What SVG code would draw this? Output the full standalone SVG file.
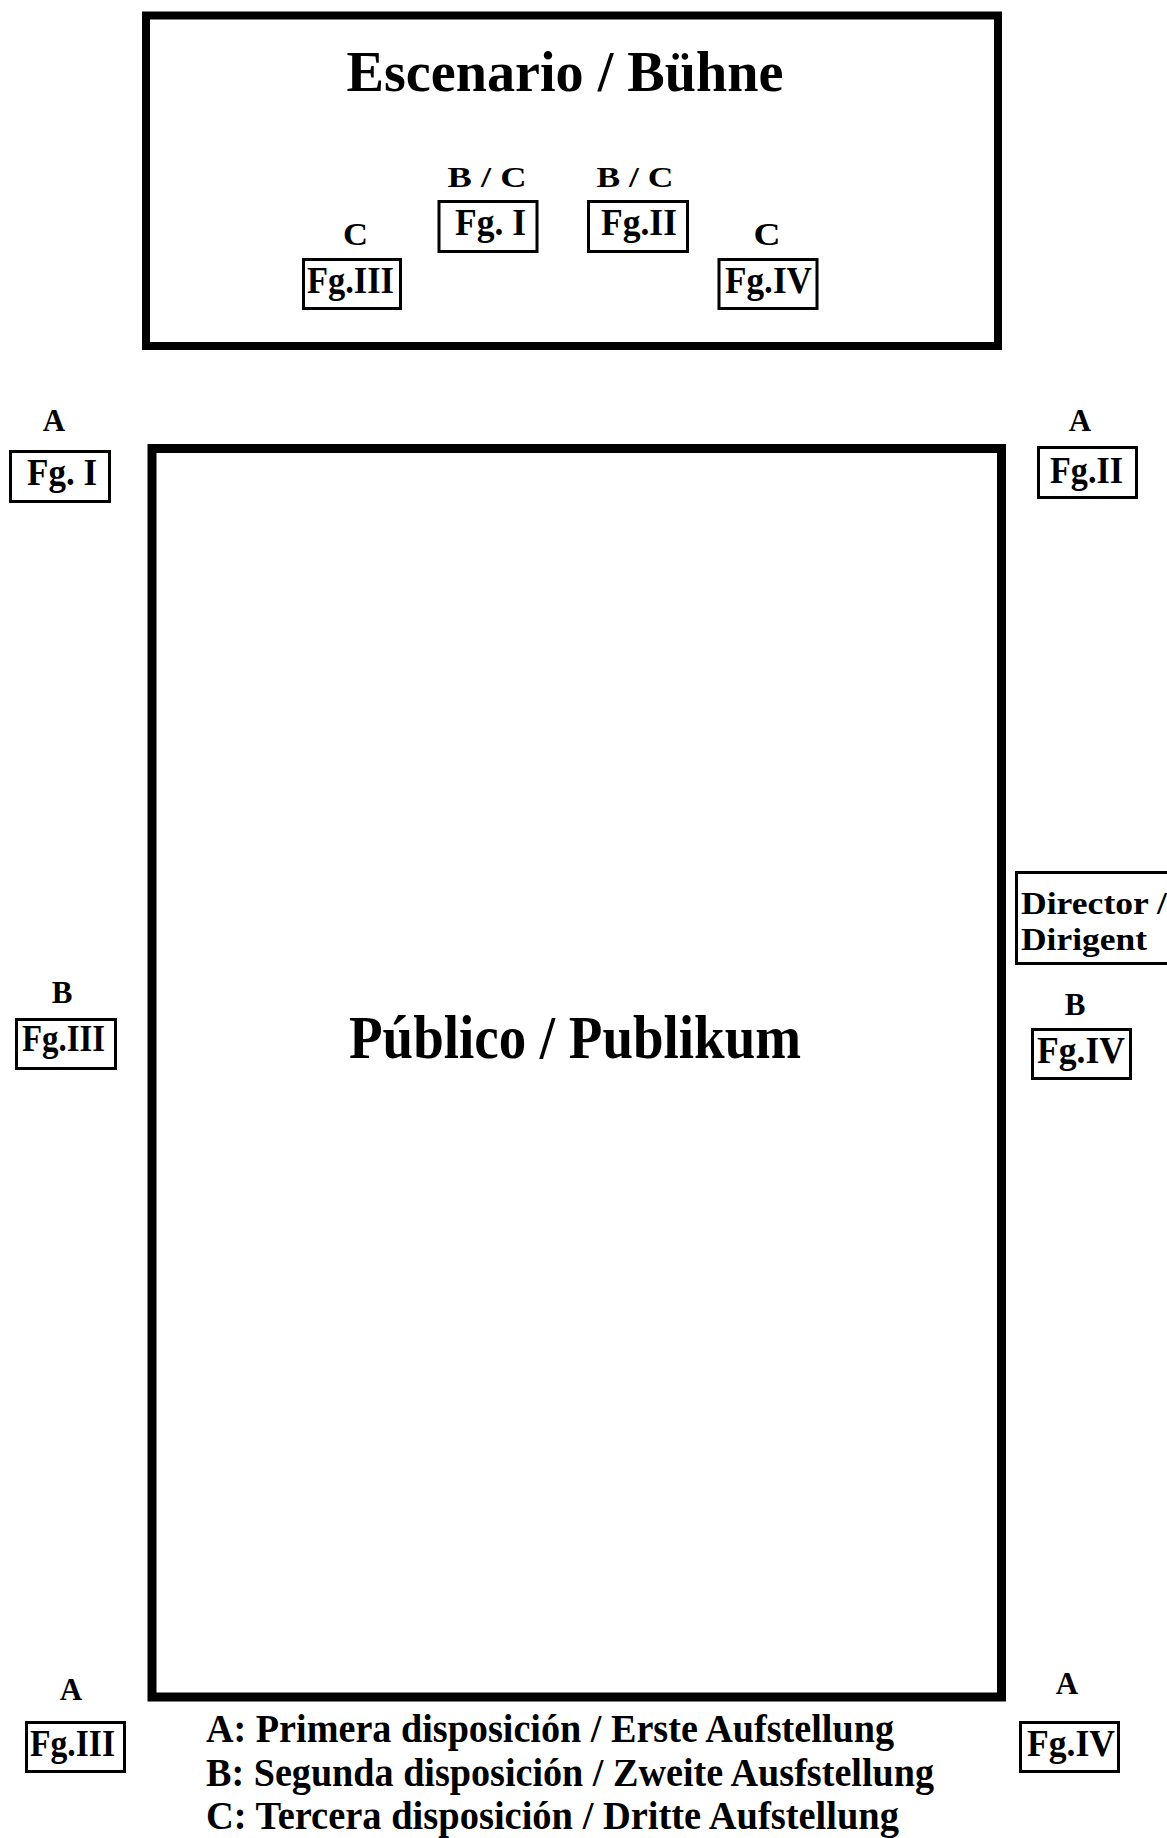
<svg xmlns="http://www.w3.org/2000/svg" width="1167" height="1838" viewBox="0 0 1167 1838">
<style>
.t{font-family:"Liberation Serif","Times New Roman",serif;font-weight:bold;fill:#000}
.m{text-anchor:middle}
.box{fill:none;stroke:#000;stroke-width:3}
.big{fill:none;stroke:#000}
.lab{font-size:31px}
</style>
<rect width="1167" height="1838" fill="#fff"/>
<g id="stage">
<rect class="big" x="146" y="15.5" width="852" height="330.5" stroke-width="8"/>
<text class="t m" x="565" y="91" font-size="58" textLength="437" lengthAdjust="spacingAndGlyphs">Escenario / Bühne</text>
</g>
<g id="stage-fg3">
<text class="t m lab" x="355.5" y="245" textLength="25" lengthAdjust="spacingAndGlyphs">C</text>
<rect class="box" x="303.5" y="259.5" width="97" height="49"/>
<text class="t m" x="350.5" y="293" font-size="38" textLength="87" lengthAdjust="spacingAndGlyphs">Fg.III</text>
</g>
<g id="stage-fg1">
<text class="t m" x="487" y="187" font-size="30" textLength="79" lengthAdjust="spacingAndGlyphs">B / C</text>
<rect class="box" x="439" y="201.5" width="98" height="50"/>
<text class="t m" x="490.5" y="235" font-size="38" textLength="71" lengthAdjust="spacingAndGlyphs">Fg. I</text>
</g>
<g id="stage-fg2">
<text class="t m" x="635" y="187" font-size="30" textLength="77" lengthAdjust="spacingAndGlyphs">B / C</text>
<rect class="box" x="588.5" y="201.5" width="99" height="50"/>
<text class="t m" x="639" y="235" font-size="38" textLength="76" lengthAdjust="spacingAndGlyphs">Fg.II</text>
</g>
<g id="stage-fg4">
<text class="t m lab" x="767" y="245" textLength="27" lengthAdjust="spacingAndGlyphs">C</text>
<rect class="box" x="719" y="259.5" width="98" height="49"/>
<text class="t m" x="768.5" y="293" font-size="38" textLength="87" lengthAdjust="spacingAndGlyphs">Fg.IV</text>
</g>
<g id="audience">
<rect class="big" x="152" y="448.5" width="849.5" height="1248.5" stroke-width="9"/>
<text class="t m" x="575" y="1058" font-size="62" textLength="452" lengthAdjust="spacingAndGlyphs">Público / Publikum</text>
</g>
<g id="a-fg1">
<text class="t m lab" x="54" y="431">A</text>
<rect class="box" x="10.5" y="451.5" width="99" height="50"/>
<text class="t m" x="62" y="485" font-size="38" textLength="70" lengthAdjust="spacingAndGlyphs">Fg. I</text>
</g>
<g id="a-fg2">
<text class="t m lab" x="1080" y="431">A</text>
<rect class="box" x="1038.5" y="447.5" width="98" height="50"/>
<text class="t m" x="1086.5" y="483" font-size="38" textLength="73" lengthAdjust="spacingAndGlyphs">Fg.II</text>
</g>
<g id="director">
<rect class="box" x="1016.5" y="872.5" width="160" height="91"/>
<text class="t" x="1021" y="914" font-size="32" textLength="146" lengthAdjust="spacingAndGlyphs">Director /</text>
<text class="t" x="1021" y="950" font-size="32" textLength="126" lengthAdjust="spacingAndGlyphs">Dirigent</text>
</g>
<g id="b-fg3">
<text class="t m lab" x="62" y="1003">B</text>
<rect class="box" x="16.5" y="1019.5" width="99" height="49"/>
<text class="t m" x="63.5" y="1051" font-size="38" textLength="83" lengthAdjust="spacingAndGlyphs">Fg.III</text>
</g>
<g id="b-fg4">
<text class="t m lab" x="1075" y="1015">B</text>
<rect class="box" x="1032.5" y="1029.5" width="98" height="49"/>
<text class="t m" x="1081" y="1063" font-size="38" textLength="88" lengthAdjust="spacingAndGlyphs">Fg.IV</text>
</g>
<g id="a-fg3">
<text class="t m lab" x="71" y="1700">A</text>
<rect class="box" x="26.5" y="1722.5" width="98" height="49"/>
<text class="t m" x="72.5" y="1756" font-size="38" textLength="85" lengthAdjust="spacingAndGlyphs">Fg.III</text>
</g>
<g id="a-fg4">
<text class="t m lab" x="1067" y="1694">A</text>
<rect class="box" x="1020.5" y="1722.5" width="98" height="49"/>
<text class="t m" x="1071" y="1756" font-size="38" textLength="88" lengthAdjust="spacingAndGlyphs">Fg.IV</text>
</g>
<g id="legend">
<text class="t" x="206" y="1742" font-size="40" textLength="688" lengthAdjust="spacingAndGlyphs">A: Primera disposición / Erste Aufstellung</text>
<text class="t" x="206" y="1786" font-size="40" textLength="728" lengthAdjust="spacingAndGlyphs">B: Segunda disposición / Zweite Ausfstellung</text>
<text class="t" x="206" y="1829" font-size="40" textLength="693" lengthAdjust="spacingAndGlyphs">C: Tercera disposición / Dritte Aufstellung</text>
</g>
</svg>
